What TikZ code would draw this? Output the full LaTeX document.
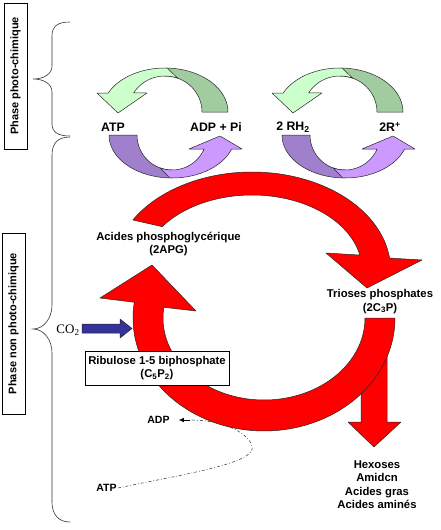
\documentclass[tikz,border=0pt]{standalone}
\usepackage{fontspec}
\setmainfont{Liberation Sans}
\newfontfamily\serifcf{Liberation Serif}
\usetikzlibrary{arrows.meta}
\definecolor{redc}{HTML}{FF0000}
\definecolor{greenL}{HTML}{CCFFCC}
\definecolor{greenD}{HTML}{A0CCA0}
\definecolor{purpL}{HTML}{CC99FF}
\definecolor{purpD}{HTML}{A080CC}
\definecolor{bluec}{HTML}{333399}
\newcommand{\greenpair}[1]{%
  \path[shapeline, fill=greenD] plot[domain=-90:0, samples=30] ({#1+63*cos(\x)},{112+44*sin(\x)})
     -- plot[domain=0:-90, samples=30] ({#1+37*cos(\x)},{112+36*sin(\x)}) -- cycle;
  \path[shapeline, fill=greenL] (#1-68,93) -- (#1-56.8,93)
     -- plot[domain=-154.4:-88, samples=30] ({#1+63*cos(\x)},{112+44*sin(\x)})
     -- plot[domain=-70:-148.1, samples=30] ({#1+37*cos(\x)},{112+36*sin(\x)})
     -- (#1-18,93) -- (#1-47,113) -- cycle;
}
\newcommand{\purplepair}[1]{%
  \path[shapeline, fill=purpD] plot[domain=180:90, samples=30] ({#1+63*cos(\x)},{135+43*sin(\x)})
     -- plot[domain=90:180, samples=30] ({#1+35*cos(\x)},{135+35*sin(\x)}) -- cycle;
  \path[shapeline, fill=purpL] plot[domain=92:19, samples=30] ({#1+63*cos(\x)},{135+43*sin(\x)})
     -- (#1+70,149) -- (#1+48,136) -- (#1+17,149)
     -- plot[domain=23.6:110, samples=30] ({#1+35*cos(\x)},{135+35*sin(\x)}) -- cycle;
}
\begin{document}
\begin{tikzpicture}[x=1pt,y=-1pt,
  shapeline/.style={draw=black!85, line width=0.5pt, line join=round},
  lbl/.style={font=\bfseries\fontsize{11.3}{13.5}\selectfont, align=center, inner sep=0pt},
  toplbl/.style={font=\bfseries\fontsize{12.3}{14}\selectfont, inner sep=0pt},
  smalllbl/.style={font=\bfseries\fontsize{10.5}{12}\selectfont, inner sep=0pt},
  sidebox/.style={draw, line width=0.6pt, rotate=90, minimum height=23pt, inner sep=0pt,
     font=\bfseries\fontsize{11}{13}\selectfont},
  bracestyle/.style={draw=black!80, line width=0.6pt}]
\fill[white] (0,0) rectangle (440,530);
\useasboundingbox (0,0) rectangle (440,530);

% side boxes
\node[sidebox, minimum width=146pt] (ph1) at (15.5,76) {Phase photo-chimique};
\node[sidebox, minimum width=181pt] (ph2) at (13.5,323.5) {Phase non photo-chimique};

% braces
\path[bracestyle] (70,22) .. controls (58,22) and (52,26) .. (52,36) -- (52,66)
  .. controls (52,74) and (44,79) .. (33,79) .. controls (44,79) and (52,84) .. (52,92)
  -- (52,124) .. controls (52,132) and (58,136) .. (70,136);
\path[bracestyle] (70,137) .. controls (58,137) and (52,143) .. (52,155) -- (52,305)
  .. controls (52,318) and (44,329) .. (33,329) .. controls (44,329) and (52,340) .. (52,353)
  -- (52,502) .. controls (52,514) and (58,522) .. (70,522);

% top cycles
\greenpair{165}
\greenpair{340}
\purplepair{172}
\purplepair{345}

% downward arrow to products
\path[shapeline, fill=redc] (361,350) -- (361,422) -- (348,422) -- (374,447) -- (401,422)
  -- (387,422) -- (387,350) -- cycle;

% labels used by dash-dot connector
\node[smalllbl] (adp) at (158.5,420) {ADP};
\node[smalllbl] (atpb) at (106.5,488) {ATP};
\coordinate (bend) at (190,420);
\draw[black!80, line width=0.5pt, dash pattern=on 3pt off 2pt on 0.8pt off 2pt]
  ([xshift=1pt]atpb.east) .. controls (190,473) and (257,463) .. (252,446)
  .. controls (248,432) and (222,420) .. (bend);
\draw[black, line width=0.6pt, -{Latex[length=5pt,width=4.5pt]}] (bend) -- ([xshift=9pt]adp.east);

% bottom red ring with upward arrow
\path[shapeline, fill=redc] plot[domain=0:188, samples=80] ({264+131*cos(\x)},{318+113*sin(\x)})
  -- (100,298) -- (152,265) -- (196,311)
  -- plot[domain=187.5:0, samples=80] ({264+101*cos(\x)},{318+82*sin(\x)}) -- cycle;

% top red arrow
\path[shapeline, fill=redc] (133,220)
  -- plot[domain=-149.3:-7, samples=80] ({252+138.6*cos(\x)},{270+98*sin(\x)})
  -- (422,260) -- (367,288) -- (326,253)
  -- plot[domain=-11.5:-144.7, samples=80] ({252+110*cos(\x)},{270+75*sin(\x)}) -- cycle;

% CO2 arrow
\path[shapeline, fill=bluec] (82,324) -- (120,324) -- (120,319) -- (132,328.5) -- (120,338)
  -- (120,333) -- (82,333) -- cycle;
\node[font=\serifcf\fontsize{13}{15}\selectfont, inner sep=0pt] (co2) at (68,330) {CO\textsubscript{2}};

% Ribulose box
\node[draw, line width=0.6pt, fill=white, minimum width=144pt, minimum height=34pt, lbl] (ribo)
  at (157,368) {Ribulose 1-5 biphosphate\\(C\textsubscript{5}P\textsubscript{2})};

% labels
\node[toplbl] (atp) at (113,127) {ATP};
\node[toplbl] (adppi) at (216,127) {ADP + Pi};
\node[toplbl] (rh2) at (293,127) {2 RH\textsubscript{2}};
\node[toplbl] (rplus) at (390,127) {2R\textsuperscript{+}};
\node[lbl] (apg) at (168.5,244) {Acides phosphoglycérique\\(2APG)};
\node[lbl] (triose) at (380,301.5) {Trioses phosphates\\(2C\textsubscript{3}P)};
\node[lbl] (prod) at (377,484.5) {Hexoses\\Amidcn\\Acides gras\\Acides aminés};
\end{tikzpicture}
\end{document}
